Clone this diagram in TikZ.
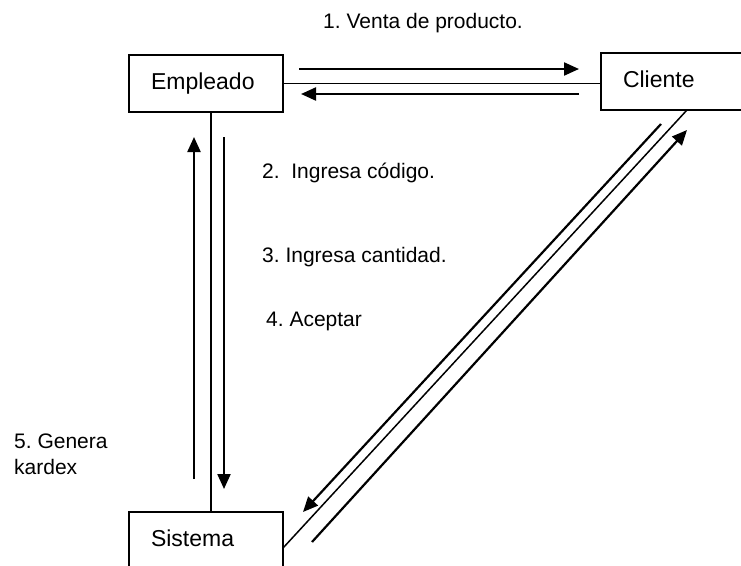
\documentclass[tikz,border=0pt]{standalone}
\usepackage{fontspec}
\setmainfont{Liberation Sans}
\usetikzlibrary{arrows.meta}
\frenchspacing
\begin{document}
\begin{tikzpicture}[x=1pt,y=-1pt,
  box/.style={draw, line width=1.9pt, anchor=north west, inner xsep=22pt, inner ysep=0pt,
    text width=110pt, align=left, text height=34pt, text depth=23pt,
    font=\fontsize{23}{27}\selectfont, outer sep=0pt},
  lbl/.style={anchor=base west, inner sep=0pt, align=left, font=\fontsize{21}{26}\selectfont},
  link/.style={line width=1.5pt},
  arr/.style={line width=2.2pt, -{Triangle[length=15pt,width=13pt]}},
]
\useasboundingbox (0,0) rectangle (741,565);
\clip (0,0) rectangle (741,565);

% boxes
\node[box] (emp) at (129,55) {Empleado};
\node[box] (cli) at (601,53) {Cliente};
\node[box] (sis) at (129,512) {Sistema};

% connecting lines
\draw[link] (emp.east) -- (emp.east -| cli.west);
\draw[link] ([xshift=82pt]emp.south west) -- ([xshift=82pt]sis.north west);
\draw[link] ([xshift=86pt]cli.south west) -- ([yshift=-36pt]sis.north east);

% arrow end points
\coordinate (a1s) at (299,69);  \coordinate (a1e) at (579,69);
\coordinate (a2s) at (579,94);  \coordinate (a2e) at (301,94);
\coordinate (a3s) at (194,479); \coordinate (a3e) at (194,137);
\coordinate (a4s) at (224,137); \coordinate (a4e) at (224,489);
\coordinate (a5s) at (661,124); \coordinate (a5e) at (303,512);
\coordinate (a6s) at (312,542); \coordinate (a6e) at (687,130);

\draw[arr] (a1s) -- (a1e);
\draw[arr] (a2s) -- (a2e);
\draw[arr] (a3s) -- (a3e);
\draw[arr] (a4s) -- (a4e);
\draw[arr] (a5s) -- (a5e);
\draw[arr] (a6s) -- (a6e);

% labels
\node[lbl] (l1) at (323,28.5) {1. Venta de producto.};
\node[lbl] (l2) at (262,178) {2.\ \ Ingresa código.};
\node[lbl] (l3) at (262,262) {3. Ingresa cantidad.};
\node[lbl] (l4) at (266,326) {4. Aceptar};
\node[lbl] (l5) at (14,474.5) {5. Genera\\kardex};
\end{tikzpicture}
\end{document}
